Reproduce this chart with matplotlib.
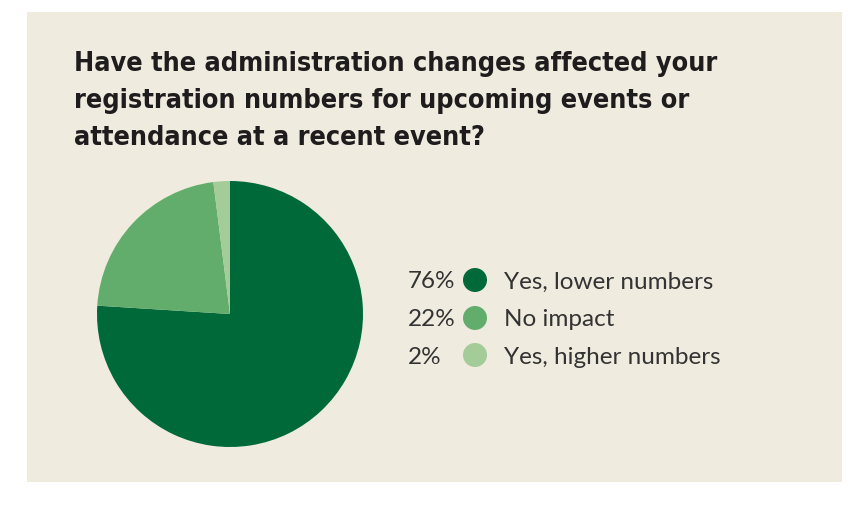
import matplotlib
matplotlib.use('Agg')
import matplotlib.pyplot as plt
from matplotlib.patches import Rectangle

# datos
categorias = ['Yes, lower numbers', 'No impact', 'Yes, higher numbers']
valores = [76, 22, 2]
etiquetas_pct = ['76%', '22%', '2%']
colores = ['#00693a', '#63ad6c', '#a3cc98']

titulo = ['Have the administration changes affected your',
          'registration numbers for upcoming events or',
          'attendance at a recent event?']

W, H = 868, 524
fondo = '#efebdf'

fig = plt.figure(figsize=(W / 100, H / 100), dpi=100)
fig.patch.set_facecolor('white')

# panel beige
fig.patches.append(Rectangle((27 / W, 42 / H), 815 / W, 470 / H,
                             transform=fig.transFigure, facecolor=fondo,
                             edgecolor='none', zorder=-5))

renderer = fig.canvas.get_renderer()

# titulo, ajustando tamano al ancho de la primera linea
t = fig.text(74 / W, 1 - 71 / H, titulo[0], fontsize=20, fontweight='bold',
             family='DejaVu Sans', fontstretch='condensed', color='#1f1c1d',
             va='baseline', ha='left')
ancho = t.get_window_extent(renderer).width
fs_tit = 20 * 646 / ancho
t.set_fontsize(fs_tit)
for i, linea in enumerate(titulo[1:], start=1):
    fig.text(74 / W, 1 - (71 + 37 * i) / H, linea, fontsize=fs_tit,
             fontweight='bold', family='DejaVu Sans', fontstretch='condensed',
             color='#1f1c1d', va='baseline', ha='left')

# tarta
ax = fig.add_axes([97 / W, 77 / H, 266 / W, 266 / H])
ax.pie(valores, colors=colores, startangle=90, counterclock=False,
       radius=1, wedgeprops=dict(linewidth=0))
ax.set_xlim(-1, 1)
ax.set_ylim(-1, 1)
ax.set_aspect('equal')
ax.axis('off')

# leyenda en coordenadas de pixel
axl = fig.add_axes([0, 0, 1, 1], facecolor='none')
axl.set_xlim(0, W)
axl.set_ylim(H, 0)
axl.axis('off')
filas_y = [280, 318, 355]
axl.scatter([475] * 3, filas_y, s=(24 * 0.72) ** 2, c=colores,
            edgecolors='none', zorder=3)

fam_ley = ['Lato', 'DejaVu Sans']
prueba = axl.text(504, filas_y[0], categorias[0], fontsize=15, family=fam_ley)
fs_ley = 15 * 210 / prueba.get_window_extent(renderer).width
prueba.remove()
for y, pct, cat in zip(filas_y, etiquetas_pct, categorias):
    axl.text(408, y, pct, fontsize=fs_ley, family=fam_ley, color='#333333',
             va='center_baseline', ha='left')
    axl.text(504, y, cat, fontsize=fs_ley, family=fam_ley, color='#333333',
             va='center_baseline', ha='left')

fig.savefig('out.png', dpi=100, facecolor=fig.get_facecolor())
